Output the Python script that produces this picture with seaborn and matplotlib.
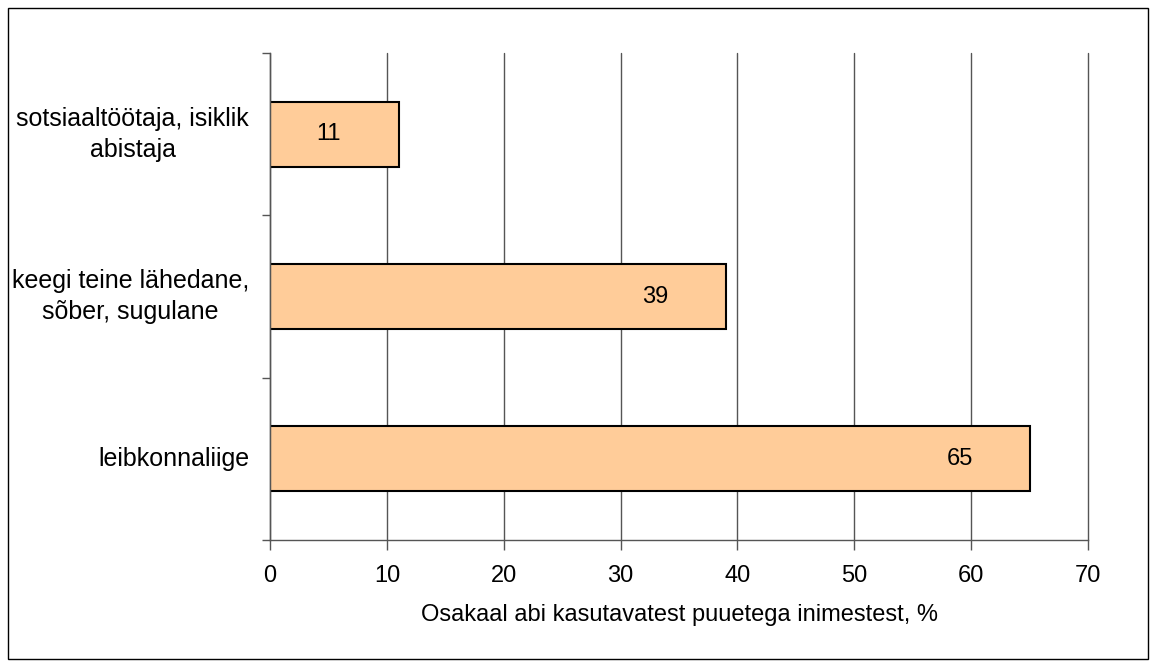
import numpy as np
import pandas as pd
import matplotlib
matplotlib.use("Agg")
import matplotlib.pyplot as plt
import seaborn as sns

# DATA
categories = ["sotsiaaltöötaja, isiklik\nabistaja",
              "keegi teine lähedane,\nsõber, sugulane",
              "leibkonnaliige"]
values = [11, 39, 65]
xticks = [0, 10, 20, 30, 40, 50, 60, 70]
xlabel = "Osakaal abi kasutavatest puuetega inimestest, %"

df = pd.DataFrame({"kategooria": categories, "osakaal": values})

sns.set_style("white")
plt.rcParams["font.family"] = ["Liberation Sans", "DejaVu Sans"]
plt.rcParams["text.color"] = "black"
plt.rcParams["xtick.labelcolor"] = "black"
plt.rcParams["ytick.labelcolor"] = "black"
plt.rcParams["axes.labelcolor"] = "black"

fig = plt.figure(figsize=(11.57, 6.67), dpi=100)
ax = fig.add_axes([0.2334, 0.1904, 0.707, 0.7301])

sns.barplot(data=df, x="osakaal", y="kategooria", orient="h",
            color="#FFCC99", edgecolor="black", linewidth=1.5,
            width=0.4, saturation=1, ax=ax)

ax.set_xlim(0, 70)
ax.set_ylim(2.5, -0.5)
ax.set_xticks(xticks)
ax.set_xticklabels([str(t) for t in xticks], fontsize=17)
ax.xaxis.grid(True, color="#555555", linewidth=1)
for gl in ax.get_xgridlines():
    gl.set_clip_on(False)
ax.set_axisbelow(True)

# category labels, ticks on the band boundaries
ax.set_yticks(range(len(categories)))
ax.set_yticklabels(categories, fontsize=18)
for lab in ax.get_yticklabels():
    lab.set_multialignment("center")
    lab.set_linespacing(1.35)
    lab.set_verticalalignment("center")
ax.set_yticks(np.arange(-0.5, len(categories), 1), minor=True)
ax.tick_params(axis="y", which="major", length=0, pad=15)
ax.tick_params(axis="y", which="minor", length=6, width=1, color="#555555", direction="out", left=True)
ax.tick_params(axis="x", length=7, width=1, color="#555555", direction="out", bottom=True, pad=11)

for side in ["top", "right"]:
    ax.spines[side].set_visible(False)
for side in ["left", "bottom"]:
    ax.spines[side].set_color("#555555")
    ax.spines[side].set_linewidth(1)

ax.set_ylabel("")
ax.set_xlabel(xlabel, fontsize=17, labelpad=12)

# value labels inside the bars
for i, v in enumerate(values):
    ax.text(v - 6, i, str(v), ha="center", va="center", fontsize=17, color="black")

# outer frame
fig.patches.append(plt.Rectangle((0.0069, 0.012), 0.9853, 0.976, transform=fig.transFigure,
                                 fill=False, edgecolor="black", linewidth=1))

plt.savefig("out.png", dpi=100)
plt.close()
